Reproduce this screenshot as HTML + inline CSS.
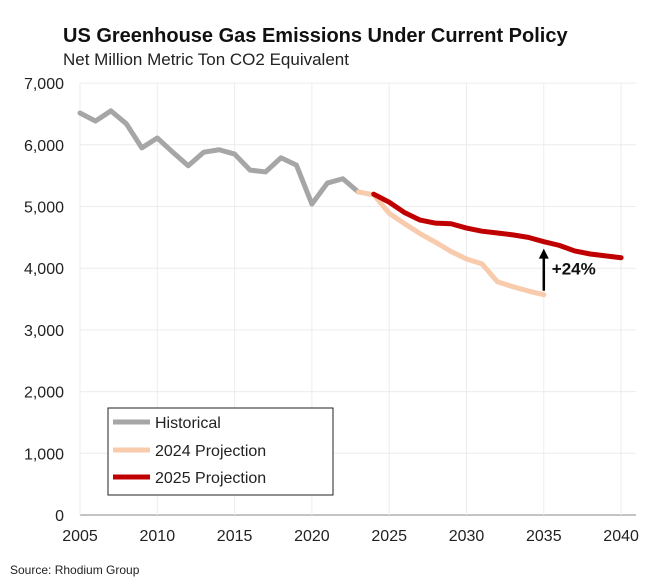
<!DOCTYPE html>
<html><head><meta charset="utf-8"><style>
body{margin:0;background:#fff;font-family:"Liberation Sans",sans-serif}
svg text{font-family:"Liberation Sans",sans-serif}
</style></head><body>
<svg id="c" width="671" height="579">
<text x="63" y="42" font-size="20" font-weight="bold" fill="#111">US Greenhouse Gas Emissions Under Current Policy</text>
<text x="63" y="65" font-size="17" fill="#222">Net Million Metric Ton CO2 Equivalent</text>
<text x="10" y="574" font-size="12" fill="#222">Source: Rhodium Group</text>
<g id="grid"></g><g id="series"></g>
<g>
<rect x="108" y="408" width="225" height="87" fill="#fff" stroke="#222" stroke-width="1"/>
<line x1="113" y1="422" x2="150" y2="422" stroke="#a6a6a6" stroke-width="5"/>
<text x="155" y="428" font-size="16" fill="#222">Historical</text>
<line x1="113" y1="450" x2="150" y2="450" stroke="#f8cbad" stroke-width="5"/>
<text x="155" y="456" font-size="16" fill="#222">2024 Projection</text>
<line x1="113" y1="477" x2="150" y2="477" stroke="#c00000" stroke-width="5"/>
<text x="155" y="483" font-size="16" fill="#222">2025 Projection</text>
</g>
</svg>
<script>
const histYears=[2005,2006,2007,2008,2009,2010,2011,2012,2013,2014,2015,2016,2017,2018,2019,2020,2021,2022,2023];
const histValues=[6515,6385,6550,6340,5950,6110,5880,5660,5880,5920,5850,5590,5560,5790,5670,5040,5380,5450,5235];
const p24Years=[2023,2024,2025,2026,2027,2028,2029,2030,2031,2032,2033,2034,2035];
const p24Values=[5235,5190,4890,4720,4560,4420,4270,4150,4070,3780,3700,3630,3570];
const p25Years=[2024,2025,2026,2027,2028,2029,2030,2031,2032,2033,2034,2035,2036,2037,2038,2039,2040];
const p25Values=[5200,5070,4900,4780,4730,4720,4650,4600,4570,4540,4500,4430,4370,4280,4230,4200,4170];
const xTicks=[2005,2010,2015,2020,2025,2030,2035,2040];
const yTicks=[0,1000,2000,3000,4000,5000,6000,7000];
const NS="http://www.w3.org/2000/svg";
const X=yr=>80+(yr-2005)*15.46, Y=v=>515-v*0.0617;
const grid=document.getElementById('grid'), ser=document.getElementById('series');
function mk(tag,attrs,parent){const e=document.createElementNS(NS,tag);for(const k in attrs)e.setAttribute(k,attrs[k]);parent.appendChild(e);return e;}
yTicks.forEach(v=>{
  const l=mk('line',{x1:80,x2:636,y1:Y(v),y2:Y(v),stroke:v===0?'#888':'#ececec','stroke-width':1},grid);
  
  
  const t=mk('text',{x:64,y:Y(v)+6,'font-size':16,fill:'#222','text-anchor':'end'},grid);
  t.textContent=v.toLocaleString('en-US');
  
  
});
xTicks.forEach(yr=>{
  const l=mk('line',{x1:X(yr),x2:X(yr),y1:83,y2:515,stroke:'#ececec','stroke-width':1},grid);
  
  
  const t=mk('text',{x:X(yr),y:541,'font-size':16,fill:'#222','text-anchor':'middle'},grid);
  t.textContent=yr;
  
  
});
function line(ys,vs,color,name){
  const p=mk('polyline',{points:ys.map((y,i)=>X(y)+','+Y(vs[i])).join(' '),fill:'none',stroke:color,'stroke-width':5,'stroke-linejoin':'round','stroke-linecap':'round'},ser);
  
  
}
line(histYears,histValues,'#a6a6a6','historical-line');
line(p24Years,p24Values,'#f8cbad','projection-2024-line');
line(p25Years,p25Values,'#c00000','projection-2025-line');
const ax=X(2035);
const ar=mk('line',{x1:ax,x2:ax,y1:Y(p24Values[p24Values.length-1])-4,y2:Y(4430)+16,stroke:'#000','stroke-width':2.5},ser);


const ah=mk('polygon',{points:`${ax-5},${Y(4430)+17} ${ax+5},${Y(4430)+17} ${ax},${Y(4430)+7}`,fill:'#000'},ser);


const lab=mk('text',{x:ax+8,y:Y(3900),'font-size':17,'font-weight':'bold',fill:'#111'},ser);
lab.textContent='+24%';


</script>
</body></html>
